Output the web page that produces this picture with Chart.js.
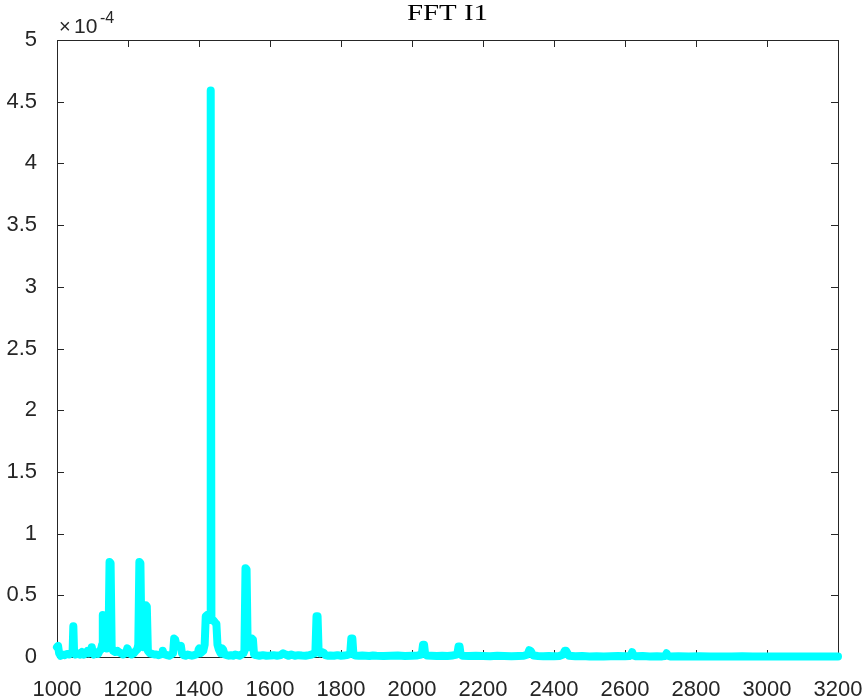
<!DOCTYPE html>
<html>
<head>
<meta charset="utf-8">
<script src="https://cdn.jsdelivr.net/npm/chart.js@4.4.1/dist/chart.umd.min.js"></script>
<style>
  body { margin: 0; background: #fff; }
  #wrap { width: 867px; height: 699px; }
</style>
</head>
<body>
<div id="wrap"><canvas id="fftChart" width="867" height="699"></canvas></div>
<script>
// spectrum of I1, amplitude in units of 1e-4
var titleText = "FFT I1";
var expLabel = "-4";
var xTickMin = 1000, xTickMax = 3200, xTickStep = 200;
var yTickMin = 0, yTickMax = 5, yTickStep = 0.5;

var freqHz = [
  1000,1003,1006,1010,1016,1022,1028,1034,1040,1044,
  1046,1048,1052,1058,1064,1070,1076,1082,1086,1090,
  1096,1098,1100,1104,1110,1116,1120,1124,1127,1129,
  1132,1135,1140,1145,1148,1151,1154,1158,1164,1170,
  1174,1180,1186,1192,1196,1198,1200,1204,1210,1216,
  1222,1226,1229,1232,1235,1238,1243,1247,1250,1253,
  1256,1262,1268,1274,1280,1286,1292,1296,1298,1300,
  1304,1310,1316,1322,1327,1330,1333,1336,1341,1346,
  1349,1352,1356,1362,1368,1374,1380,1386,1392,1397,
  1399,1401,1404,1408,1412,1416,1419,1423,1427,1431,
  1433,1435,1440,1445,1449,1452,1456,1461,1465,1468,
  1472,1478,1484,1490,1496,1502,1508,1514,1520,1525,
  1528,1531,1534,1537,1541,1545,1549,1552,1555,1560,
  1570,1580,1590,1600,1610,1620,1630,1637,1644,1652,
  1660,1670,1680,1690,1700,1710,1718,1725,1728,1731,
  1734,1737,1741,1746,1751,1756,1762,1770,1780,1790,
  1800,1808,1816,1822,1826,1829,1832,1835,1840,1850,
  1860,1870,1880,1890,1900,1920,1940,1960,1980,2000,
  2015,2025,2028,2031,2034,2037,2042,2055,2070,2085,
  2100,2115,2125,2128,2131,2134,2137,2142,2160,2180,
  2200,2220,2240,2260,2280,2300,2315,2326,2330,2334,
  2338,2342,2355,2370,2385,2400,2415,2426,2430,2434,
  2438,2442,2460,2480,2500,2520,2540,2560,2580,2600,
  2612,2616,2620,2624,2630,2650,2670,2690,2705,2713,
  2717,2721,2727,2750,2780,2810,2840,2870,2900,2930,
  2960,2990,3020,3050,3080,3110,3140,3170,3200
];

var ampE4 = [
  0.08,0.09,0.03,0.01,0.02,0.015,0.025,0.02,0.03,0.05,
  0.25,0.05,0.02,0.03,0.02,0.04,0.02,0.03,0.05,0.03,
  0.04,0.08,0.04,0.02,0.03,0.025,0.05,0.06,0.1,0.34,
  0.3,0.08,0.07,0.1,0.77,0.76,0.08,0.05,0.04,0.05,
  0.04,0.03,0.02,0.03,0.05,0.07,0.06,0.03,0.02,0.03,
  0.05,0.06,0.1,0.77,0.76,0.1,0.08,0.12,0.42,0.41,
  0.05,0.03,0.025,0.02,0.02,0.015,0.02,0.03,0.05,0.03,
  0.02,0.015,0.01,0.02,0.03,0.15,0.14,0.1,0.09,0.08,
  0.09,0.03,0.015,0.01,0.02,0.015,0.01,0.015,0.02,0.03,
  0.06,0.07,0.03,0.04,0.05,0.1,0.33,0.34,0.3,0.32,
  4.59,0.3,0.3,0.28,0.27,0.1,0.06,0.03,0.07,0.06,
  0.02,0.015,0.01,0.015,0.01,0.02,0.015,0.01,0.02,0.03,
  0.05,0.72,0.71,0.1,0.08,0.12,0.15,0.14,0.02,0.015,
  0.01,0.015,0.01,0.012,0.015,0.01,0.015,0.03,0.02,0.01,
  0.02,0.01,0.015,0.012,0.01,0.015,0.02,0.03,0.05,0.33,
  0.33,0.04,0.03,0.04,0.035,0.015,0.01,0.012,0.01,0.015,
  0.01,0.012,0.015,0.02,0.03,0.15,0.15,0.02,0.012,0.01,
  0.012,0.01,0.008,0.012,0.01,0.008,0.01,0.012,0.008,0.01,
  0.012,0.02,0.03,0.1,0.1,0.025,0.012,0.01,0.008,0.01,
  0.008,0.012,0.02,0.03,0.085,0.085,0.02,0.01,0.008,0.01,
  0.008,0.006,0.01,0.008,0.006,0.008,0.01,0.02,0.055,0.05,
  0.03,0.012,0.008,0.006,0.008,0.006,0.008,0.02,0.05,0.05,
  0.03,0.01,0.006,0.008,0.005,0.007,0.005,0.006,0.008,0.006,
  0.008,0.015,0.04,0.012,0.006,0.008,0.005,0.006,0.005,0.008,
  0.03,0.01,0.005,0.006,0.004,0.006,0.004,0.005,0.004,0.006,
  0.004,0.005,0.004,0.005,0.004,0.005,0.004,0.005,0.004
];

var axisColor = "#262626";

// matlab style box with inward ticks, title and exponent label
var matlabFrame = {
  id: "matlabFrame",
  beforeDatasetsDraw: function(chart) {
    var ctx = chart.ctx, a = chart.chartArea;
    var sx = chart.scales.x, sy = chart.scales.y;
    ctx.save();
    ctx.strokeStyle = axisColor;
    ctx.lineWidth = 1;
    ctx.beginPath();
    ctx.rect(Math.round(a.left) + 0.5, Math.round(a.top) + 0.5,
             Math.round(a.right - a.left), Math.round(a.bottom - a.top));
    sx.ticks.forEach(function(t) {
      var px = Math.round(sx.getPixelForValue(t.value)) + 0.5;
      ctx.moveTo(px, a.bottom); ctx.lineTo(px, a.bottom - 7);
      ctx.moveTo(px, a.top); ctx.lineTo(px, a.top + 7);
    });
    sy.ticks.forEach(function(t) {
      var py = Math.round(sy.getPixelForValue(t.value)) + 0.5;
      ctx.moveTo(a.left, py); ctx.lineTo(a.left + 7, py);
      ctx.moveTo(a.right, py); ctx.lineTo(a.right - 7, py);
    });
    ctx.stroke();
    ctx.restore();
  },
  afterDraw: function(chart) {
    var ctx = chart.ctx, a = chart.chartArea;
    ctx.save();
    ctx.fillStyle = "#000";
    ctx.font = 'normal 23px "Liberation Serif"';
    var w = ctx.measureText(titleText).width;
    var cx = (a.left + a.right) / 2;
    ctx.translate(cx, 20);
    ctx.scale(81 / w, 1);
    ctx.textAlign = "center";
    ctx.textBaseline = "alphabetic";
    ctx.fillText(titleText, 0, 0);
    ctx.restore();

    ctx.save();
    ctx.fillStyle = axisColor;
    ctx.textBaseline = "alphabetic";
    ctx.textAlign = "left";
    ctx.font = 'normal 20px "Liberation Sans"';
    ctx.fillText("\u00d7", a.left + 2, 33);
    ctx.font = 'normal 21px "Liberation Sans"';
    ctx.fillText("10", a.left + 17, 33);
    ctx.font = 'normal 16px "Liberation Sans"';
    ctx.fillText(expLabel, a.left + 43, 23);
    ctx.restore();
  }
};

var points = freqHz.map(function(f, i) { return { x: f, y: ampE4[i] }; });

new Chart(document.getElementById("fftChart"), {
  type: "line",
  data: {
    datasets: [{
      data: points,
      borderColor: "#00ffff",
      borderWidth: 8,
      borderJoinStyle: "round",
      borderCapStyle: "round",
      pointRadius: 0,
      tension: 0,
      fill: false,
      clip: false
    }]
  },
  options: {
    responsive: false,
    animation: false,
    layout: { padding: { top: 40, right: 29, bottom: 0, left: 0 } },
    plugins: { legend: { display: false }, tooltip: { enabled: false }, title: { display: false } },
    scales: {
      x: {
        type: "linear",
        min: xTickMin, max: xTickMax,
        grid: { display: false },
        border: { display: false },
        afterFit: function(s) { s.height = 42; s.paddingLeft = 0; s.paddingRight = 0; },
        ticks: {
          stepSize: xTickStep, autoSkip: false, maxRotation: 0,
          color: axisColor, padding: 12,
          font: { family: "Liberation Sans", size: 22 },
          callback: function(v) { return String(v); }
        }
      },
      y: {
        min: yTickMin, max: yTickMax,
        grid: { display: false },
        border: { display: false },
        afterFit: function(s) { s.width = 57; s.paddingTop = 0; s.paddingBottom = 0; },
        ticks: {
          stepSize: yTickStep, color: axisColor, padding: 12,
          font: { family: "Liberation Sans", size: 22 },
          callback: function(v) { return String(v); }
        }
      }
    }
  },
  plugins: [matlabFrame]
});
</script>
</body>
</html>
